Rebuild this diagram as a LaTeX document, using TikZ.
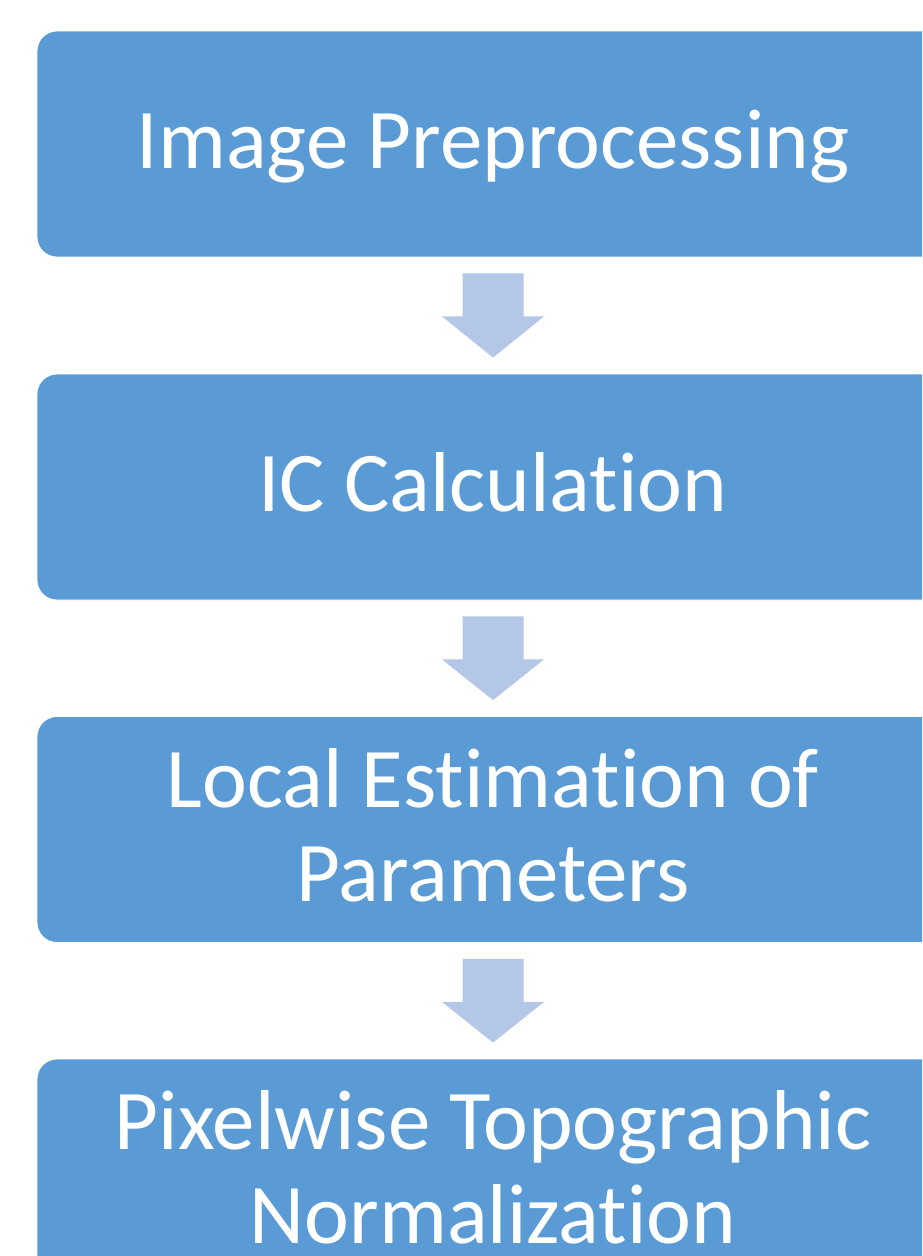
\documentclass[tikz,border=0pt]{standalone}
\usepackage{fontspec}
\setmainfont{Carlito}[Ligatures=NoCommon]
\usetikzlibrary{calc}
\definecolor{stepblue}{HTML}{5B9BD5}
\definecolor{arrowblue}{HTML}{B4C7E7}
\tikzset{
  stepbox/.style={rectangle, rounded corners=20pt, fill=stepblue, draw=white,
    line width=0.8pt, minimum width=912pt, minimum height=226pt,
    text=white, align=center, inner sep=0pt, text depth=6pt,
    font=\fontsize{85}{94}\selectfont},
  oneline/.style={stepbox, text height=55pt},
  twoline/.style={stepbox, text height=149pt},
  blockarrow/.style={fill=arrowblue, draw=none}
}
% block arrow from the bottom of one step to the top of the next
\newcommand\flowarrow[2]{%
  \path[blockarrow]
    ($(#1.south)+(-30.5,-16)$) -- ($(#1.south)+(30.5,-16)$) --
    ($(#1.south)+(30.5,-59)$) -- ($(#1.south)+(51,-59)$) --
    ($(#2.north)+(0,16)$) --
    ($(#1.south)+(-51,-59)$) -- ($(#1.south)+(-30.5,-59)$) -- cycle;}
\begin{document}
\begin{tikzpicture}[x=1pt,y=1pt]
  \useasboundingbox (0,0) rectangle (922,-1256);
  \clip (0,0) rectangle (922,-1256);
  \node[oneline] (s1) at (493,-144) {Image Preprocessing};
  \node[oneline] (s2) at (493,-487) {IC Calculation};
  \node[twoline] (s3) at (493,-829.5) {Local Estimation of\\Parameters};
  \node[twoline] (s4) at (493,-1172) {Pixelwise Topographic\\Normalization};
  \flowarrow{s1}{s2}
  \flowarrow{s2}{s3}
  \flowarrow{s3}{s4}
\end{tikzpicture}
\end{document}
